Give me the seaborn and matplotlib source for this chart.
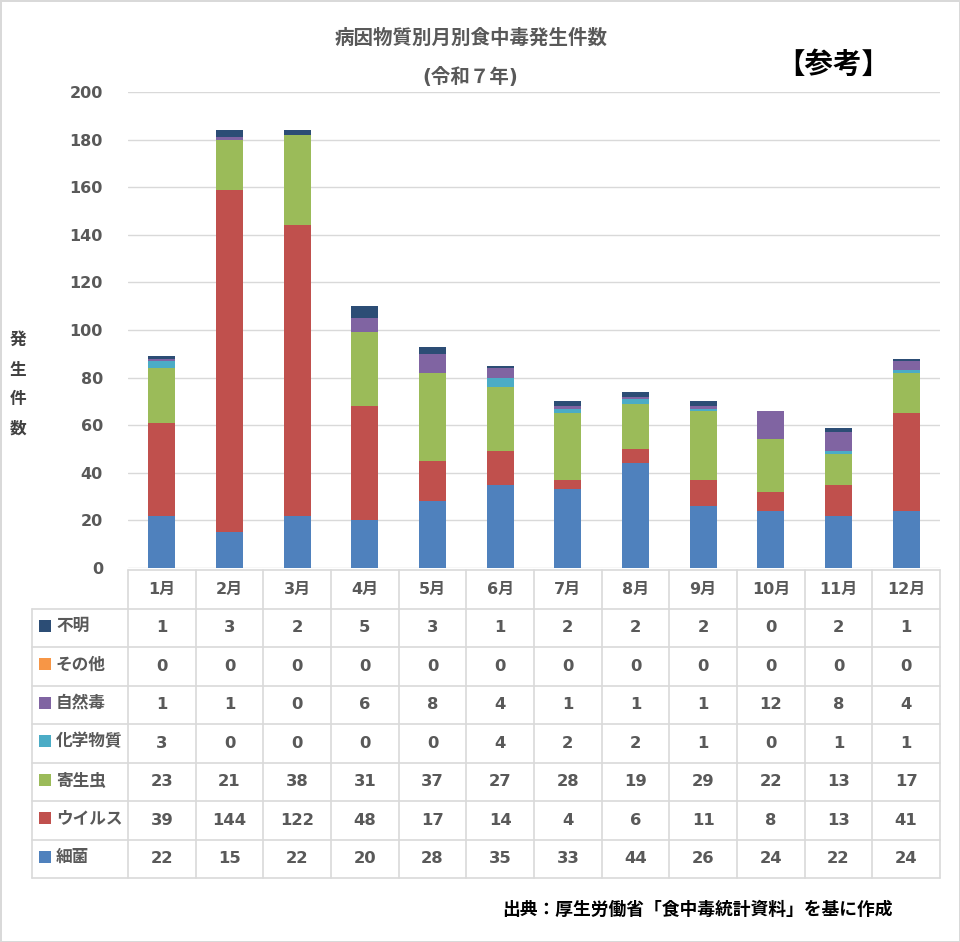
"""
病因物質別月別食中毒発生件数（令和７年） - stacked bar chart with data table
"""
import numpy as np
import pandas as pd
import matplotlib
matplotlib.use("Agg")
import matplotlib.pyplot as plt
import seaborn as sns

# data
months = ['1月', '2月', '3月', '4月', '5月', '6月', '7月', '8月', '9月', '10月', '11月', '12月']
bacteria = [22, 15, 22, 20, 28, 35, 33, 44, 26, 24, 22, 24]
virus = [39, 144, 122, 48, 17, 14, 4, 6, 11, 8, 13, 41]
parasite = [23, 21, 38, 31, 37, 27, 28, 19, 29, 22, 13, 17]
chemical = [3, 0, 0, 0, 0, 4, 2, 2, 1, 0, 1, 1]
natural_toxin = [1, 1, 0, 6, 8, 4, 1, 1, 1, 12, 8, 4]
other = [0, 0, 0, 0, 0, 0, 0, 0, 0, 0, 0, 0]
unknown = [1, 3, 2, 5, 3, 1, 2, 2, 2, 0, 2, 1]

# bottom -> top stacking order
series_names = ['細菌', 'ウイルス', '寄生虫', '化学物質', '自然毒', 'その他', '不明']
series_values = [bacteria, virus, parasite, chemical, natural_toxin, other, unknown]
series_colors = ['#4F81BD', '#C0504D', '#9BBB59', '#4BACC6', '#8064A2', '#F79646', '#2C4D75']

y_ticks = list(range(0, 201, 20))

TEXT_GRAY = '#595959'
GRID = '#D9D9D9'

sns.set_style("white")
plt.rcParams['font.family'] = ['DejaVu Sans', 'Noto Sans CJK JP']
plt.rcParams['font.weight'] = 'bold'

W, H = 960, 942
fig = plt.figure(figsize=(W / 100, H / 100), dpi=100)
fig.patch.set_edgecolor(GRID)
fig.patch.set_linewidth(2)


def fig_box(left, top, right, bottom):
    return [left / W, 1 - bottom / H, (right - left) / W, (bottom - top) / H]


# --- bar chart ---
ax = fig.add_axes(fig_box(128, 92, 940, 568))
ax.set_facecolor('none')

df = pd.DataFrame(dict(zip(series_names, series_values)), index=months)
cum = df.cumsum(axis=1)

# draw cumulative totals from the top layer down so each segment shows
for name, color in reversed(list(zip(series_names, series_colors))):
    plot_df = pd.DataFrame({'month': months, 'value': cum[name].values})
    sns.barplot(data=plot_df, x='month', y='value', color=color, saturation=1,
                width=0.4, linewidth=0, ax=ax, zorder=3)

ax.set_xlim(-0.5, len(months) - 0.5)
ax.set_ylim(0, 200)
ax.set_yticks(y_ticks)
ax.set_yticklabels([str(t) for t in y_ticks], fontsize=11.5, fontweight='bold', color=TEXT_GRAY)
ax.tick_params(axis='y', length=0, pad=18)
ax.set_xticks([])
ax.set_xlabel('')
ax.set_ylabel('')
ax.yaxis.grid(True, color=GRID, linewidth=1, zorder=0)
ax.set_axisbelow(True)
for s in ax.spines.values():
    s.set_visible(False)

# --- data table ---
tab = fig.add_axes(fig_box(128, 570, 940, 878))
tab.set_xlim(-0.5, len(months) - 0.5)
tab.set_ylim(len(series_names) + 1, 0)
tab.axis('off')

col_w_px = 812 / len(months)
label_left = -0.5 - (128 - 32) / col_w_px
marker_x = -0.5 - (128 - 45) / col_w_px
label_x = -0.5 - (128 - 56) / col_w_px

n_rows = len(series_names)
# horizontal lines
tab.plot([-0.5, len(months) - 0.5], [0, 0], color=GRID, lw=1.2, clip_on=False)
for r in range(1, n_rows + 2):
    tab.plot([label_left, len(months) - 0.5], [r, r], color=GRID, lw=1.2, clip_on=False)
# vertical lines
for c in range(len(months) + 1):
    tab.plot([c - 0.5, c - 0.5], [0, n_rows + 1], color=GRID, lw=1.2, clip_on=False)
tab.plot([label_left, label_left], [1, n_rows + 1], color=GRID, lw=1.2, clip_on=False)

# header
for i, m in enumerate(months):
    tab.text(i, 0.5, m, ha='center', va='center', fontsize=11.5,
             fontweight='bold', color=TEXT_GRAY)

# rows (top row is the top of the stack)
row_order = list(reversed(range(n_rows)))
for r, k in enumerate(row_order, start=1):
    tab.scatter([marker_x], [r + 0.45], marker='s', s=70, color=series_colors[k],
                clip_on=False, linewidths=0)
    tab.text(label_x, r + 0.45, series_names[k], ha='left', va='center',
             fontsize=12, fontweight='bold', color=TEXT_GRAY)
    for i, v in enumerate(series_values[k]):
        tab.text(i, r + 0.5, str(v), ha='center', va='center', fontsize=11.8,
                 fontweight='bold', color=TEXT_GRAY)

# --- titles and notes ---
fig.text(471 / W, 1 - 38 / H, '病因物質別月別食中毒発生件数', ha='center', va='center',
         fontsize=14, fontweight='bold', color=TEXT_GRAY)
fig.text(470 / W, 1 - 77 / H, '(令和７年)', ha='center', va='center',
         fontsize=14, fontweight='bold', color=TEXT_GRAY)
fig.text(833 / W, 1 - 65 / H, '【参考】', ha='center', va='center',
         fontsize=20.5, fontweight='bold', color='black')

for j, ch in enumerate('発生件数'):
    fig.text(18 / W, 1 - (340 + j * 29.5) / H, ch, ha='center', va='center',
             fontsize=12, fontweight='bold', color='#404040')

fig.text(893 / W, 1 - 910 / H, '出典：厚生労働省「食中毒統計資料」を基に作成',
         ha='right', va='center', fontsize=12.8, fontweight='bold', color='black')

fig.savefig('out.png', dpi=100, edgecolor=fig.get_edgecolor())
plt.close(fig)
